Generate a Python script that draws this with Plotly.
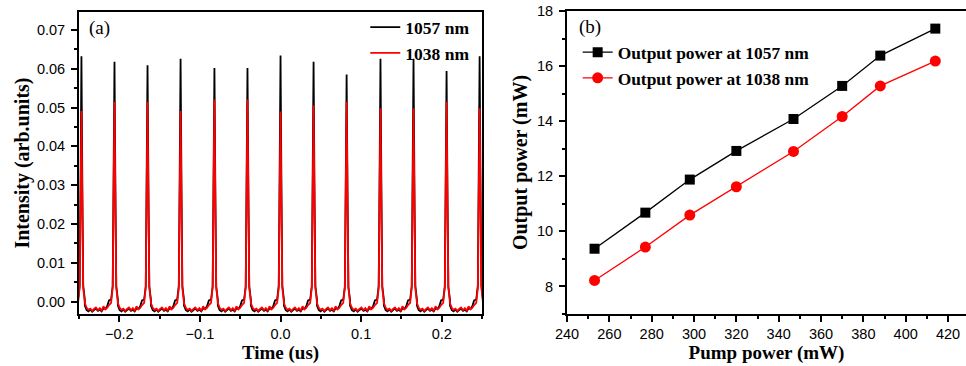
import plotly.graph_objects as go

# ---------------- Panel (a): pulse trains ----------------
peak_times = [-0.247, -0.206, -0.165, -0.124, -0.082, -0.041, 0.0,
              0.041, 0.082, 0.124, 0.165, 0.206, 0.247]
black_peaks = [0.0632, 0.0618, 0.0609, 0.0626, 0.0602, 0.0602, 0.0634,
               0.0618, 0.0585, 0.0626, 0.0626, 0.0594, 0.0632]
red_peaks = [0.0491, 0.0515, 0.0515, 0.0491, 0.0521, 0.0521, 0.0490,
             0.0506, 0.0515, 0.0498, 0.0498, 0.0515, 0.0498]
pulse_offsets = [-0.0042, -0.0022, -0.0011, 0.0, 0.0011, 0.0022, 0.0042]
pulse_profile = [0.0, 0.08, 0.5, 1.0, 0.5, 0.08, 0.0]
gap_fracs = [0.0, 0.07, 0.14, 0.21, 0.28, 0.35, 0.42, 0.5, 0.57, 0.64,
             0.71, 0.78, 0.85, 0.92, 1.0]
red_floor = [-0.0004, -0.0016, -0.0021, -0.0018, -0.0024, -0.0019, -0.0015,
             -0.0022, -0.0017, -0.0023, -0.0012, -0.0020, -0.0016, -0.0009, -0.0003]
black_floor = [-0.0010, -0.0022, -0.0025, -0.0020, -0.0026, -0.0022, -0.0018,
               -0.0024, -0.0021, -0.0025, -0.0017, -0.0019, -0.0012, 0.0003, 0.0005]

# ---------------- Panel (b): output power ----------------
pump_power = [253, 277, 298, 320, 347, 370, 388, 414]
power_1057 = [9.37, 10.68, 11.88, 12.92, 14.08, 15.28, 16.38, 17.36]
power_1038 = [8.22, 9.43, 10.59, 11.62, 12.90, 14.17, 15.28, 16.18]


def build_trace(peaks, floor):
    xs, ys = [], []
    for i, (tp, hp) in enumerate(zip(peak_times, peaks)):
        for off, frac in zip(pulse_offsets, pulse_profile):
            xs.append(tp + off)
            ys.append(floor[0] + frac * (hp - floor[0]) if frac > 0 else floor[-1])
        if i < len(peak_times) - 1:
            start = tp + pulse_offsets[-1]
            end = peak_times[i + 1] + pulse_offsets[0]
            for f, v in zip(gap_fracs, floor):
                xs.append(start + f * (end - start))
                ys.append(v)
    return xs, ys


bx, by = build_trace(black_peaks, black_floor)
rx, ry = build_trace(red_peaks, red_floor)

fig = go.Figure()
fig.add_trace(go.Scatter(x=bx, y=by, mode="lines", name="1057 nm",
                         line=dict(color="black", width=1.8),
                         xaxis="x", yaxis="y", legend="legend"))
fig.add_trace(go.Scatter(x=rx, y=ry, mode="lines", name="1038 nm",
                         line=dict(color="#ff0000", width=1.8),
                         xaxis="x", yaxis="y", legend="legend"))

fig.add_trace(go.Scatter(x=pump_power, y=power_1057, mode="lines+markers",
                         name="Output power at 1057 nm",
                         line=dict(color="black", width=1.3),
                         marker=dict(symbol="square", size=10, color="black"),
                         xaxis="x2", yaxis="y2", legend="legend2"))
fig.add_trace(go.Scatter(x=pump_power, y=power_1038, mode="lines+markers",
                         name="Output power at 1038 nm",
                         line=dict(color="#ff0000", width=1.3),
                         marker=dict(symbol="circle", size=11, color="#ff0000"),
                         xaxis="x2", yaxis="y2", legend="legend2"))

tick_font = dict(family="Liberation Sans, Arial", size=14.5, color="black")
serif = "Liberation Serif, Times New Roman"
xtitle_font = dict(family=serif, size=19, color="black", weight="bold")
ytitle_font = dict(family=serif, size=20, color="black", weight="bold")
minor_common = dict(ticklen=3, tickwidth=1.5, ticks="outside", tickcolor="black")
common = dict(showline=True, linewidth=2, linecolor="black", mirror=True,
              ticks="outside", ticklen=6, tickwidth=2, tickcolor="black",
              showgrid=False, zeroline=False, tickfont=tick_font,
              automargin=False)

fig.update_layout(
    width=966, height=366,
    margin=dict(l=0, r=0, t=0, b=0),
    paper_bgcolor="white", plot_bgcolor="white",
    xaxis=dict(domain=[0.0818, 0.499], anchor="y", range=[-0.25, 0.25],
               dtick=0.1, tick0=0, tickformat=".1f",
               minor=dict(dtick=0.05, **minor_common),
               title=dict(text="Time (us)", font=xtitle_font, standoff=2), **common),
    yaxis=dict(domain=[0.142, 0.967], anchor="x", range=[-0.0032, 0.0746],
               dtick=0.01, tick0=0, tickformat=".2f", ticklabelstandoff=3,
               minor=dict(dtick=0.005, **minor_common),
               title=dict(text="Intensity (arb.units)", font=ytitle_font, standoff=2), **common),
    xaxis2=dict(domain=[0.587, 1.0], anchor="y2", range=[240, 428.5],
                dtick=20, tick0=240,
                minor=dict(dtick=10, **minor_common),
                title=dict(text="Pump power (mW)", font=xtitle_font, standoff=2), **common),
    yaxis2=dict(domain=[0.142, 0.970], anchor="x2", range=[7, 18],
                dtick=2, tick0=8, ticklabelstandoff=3,
                minor=dict(dtick=1, **minor_common),
                title=dict(text="Output power (mW)", font=ytitle_font, standoff=4), **common),
    legend=dict(x=0.492, y=0.975, xanchor="right", yanchor="top",
                bgcolor="rgba(0,0,0,0)", tracegroupgap=0,
                font=dict(family=serif, size=17.5, color="black", weight="bold")),
    legend2=dict(x=0.598, y=0.906, xanchor="left", yanchor="top",
                 bgcolor="rgba(0,0,0,0)", tracegroupgap=0,
                 font=dict(family=serif, size=17.4, color="black", weight="bold")),
    annotations=[
        dict(text="(a)", x=0.09, y=0.96, xref="paper", yref="paper",
             xanchor="left", yanchor="top", showarrow=False,
             font=dict(family=serif, size=19, color="black")),
        dict(text="(b)", x=0.597, y=0.963, xref="paper", yref="paper",
             xanchor="left", yanchor="top", showarrow=False,
             font=dict(family=serif, size=19, color="black")),
    ],
)

fig.write_html("out.html")
